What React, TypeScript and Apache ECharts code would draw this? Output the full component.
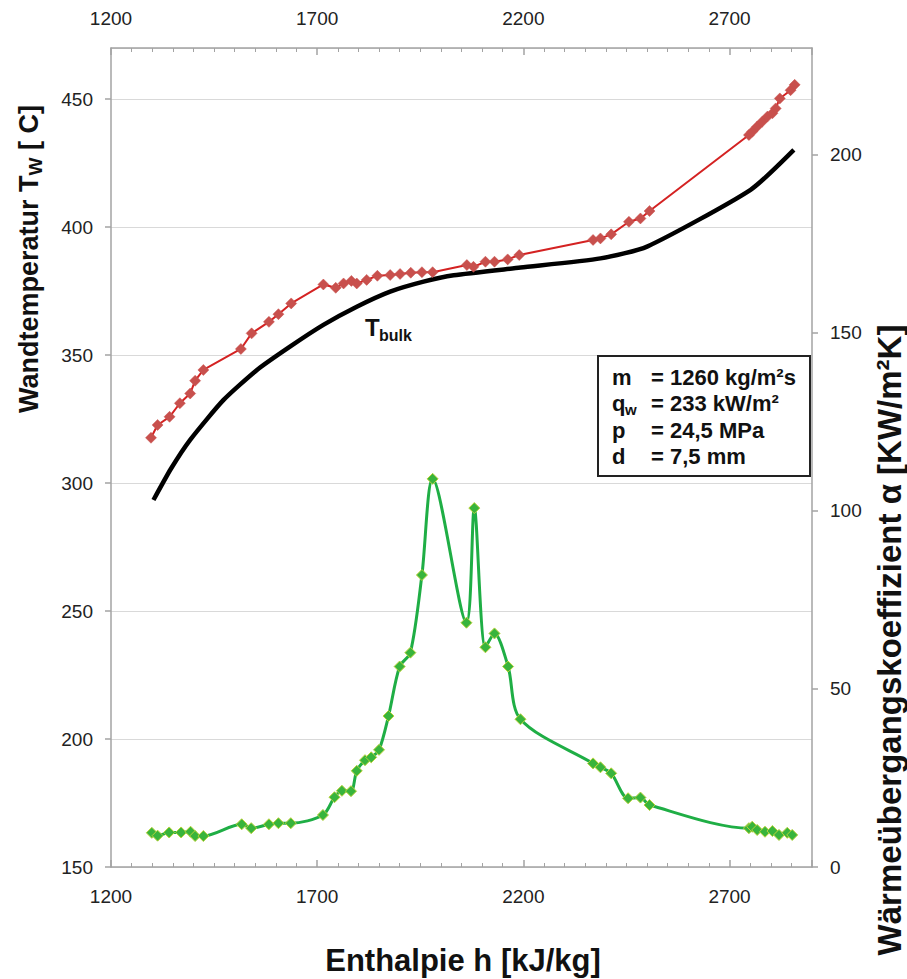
import React, { useEffect, useRef } from "react";
import * as echarts from "echarts";

// Wandtemperatur (red)
const hTw = [1297, 1313, 1342, 1367, 1392, 1404, 1424, 1515, 1541, 1583, 1606, 1637, 1715, 1745, 1764, 1783, 1796, 1820, 1846, 1877, 1901, 1927, 1954, 1980, 2063, 2079, 2108, 2130, 2162, 2190, 2369, 2387, 2413, 2456, 2484, 2506, 2747, 2755, 2767, 2779, 2792, 2804, 2812, 2822, 2848, 2858];
const tw = [317.7, 322.7, 325.9, 331.2, 335, 340, 344.2, 352.4, 358.5, 363, 366, 370.2, 377.6, 376.3, 378, 379, 378, 379.4, 381, 381.3, 381.7, 382.2, 382.4, 382.4, 385.2, 384.5, 386.5, 386.5, 387.4, 389.1, 395, 395.6, 397.2, 402.1, 403.4, 406.3, 436, 437.3, 439.3, 441.2, 443.2, 444.5, 446.4, 450.3, 453.5, 455.6];

// T bulk (black)
const hBulk = [1303, 1345, 1392, 1473, 1554, 1634, 1715, 1796, 1877, 1958, 2031, 2193, 2387, 2500, 2751, 2856];
const tBulk = [293.4, 305.5, 316.9, 332.5, 344.2, 353.3, 361.8, 368.9, 374.8, 378.7, 381.2, 384.2, 387.8, 392.4, 414.6, 430.2];

// Wärmeübergangskoeffizient (green)
const hAlpha = [1299, 1313, 1341, 1370, 1393, 1404, 1424, 1517, 1540, 1583, 1606, 1636, 1714, 1742, 1760, 1782, 1796, 1816, 1831, 1850, 1873, 1900, 1926, 1954, 1980, 2062, 2081, 2108, 2130, 2163, 2193, 2369, 2387, 2413, 2454, 2484, 2506, 2747, 2755, 2767, 2786, 2804, 2820, 2840, 2852];
const alpha = [9.6, 8.8, 9.7, 9.7, 9.9, 8.7, 8.7, 12, 10.9, 12, 12.3, 12.3, 14.6, 19.6, 21.4, 21.3, 27, 30, 30.8, 32.9, 42.4, 56.3, 60.2, 82, 109, 68.6, 100.8, 61.7, 65.6, 56.3, 41.5, 29.1, 28, 26.3, 19.3, 19.5, 17.4, 10.9, 11.3, 10.4, 9.9, 10.1, 9, 9.6, 9];

const legendLabels = ["m", "q", "p", "d"];
const legendValues = ["= 1260 kg/m²s", "= 233 kW/m²", "= 24,5 MPa", "= 7,5 mm"];

const FONT = '"Liberation Sans", Arial, sans-serif';

export default function App() {
  const ref = useRef<HTMLDivElement>(null);
  useEffect(() => {
    if (!ref.current) return;
    const chart = echarts.init(ref.current, null, { renderer: "svg" });
    const axisLineColor = "#a3a3a3";
    const xCommon = {
      type: "value",
      min: 1200,
      max: 2900,
      interval: 500,
      axisLine: { show: true, lineStyle: { color: axisLineColor, width: 1.5 } },
      axisTick: { show: true, inside: true, length: 7, lineStyle: { color: axisLineColor, width: 1.5 } },
      minorTick: { show: true, splitNumber: 10, length: 4, lineStyle: { color: axisLineColor, width: 1 } },
      axisLabel: {
        showMaxLabel: false, margin: 20, fontSize: 19, color: "#222", fontFamily: FONT,
        formatter: (v: number) => String(v),
      },
      splitLine: { show: false },
    };
    const legendRows: any[] = [];
    const rowY = [377, 403, 430, 456];
    legendLabels.forEach((l, i) => {
      legendRows.push({
        type: "text", x: 612, y: rowY[i], z: 101,
        style: { text: l, fill: "#111", font: `bold 22px ${FONT}`, textAlign: "left", textVerticalAlign: "middle" },
      });
      legendRows.push({
        type: "text", x: 651, y: rowY[i], z: 101,
        style: { text: legendValues[i], fill: "#111", font: `bold 22px ${FONT}`, textAlign: "left", textVerticalAlign: "middle" },
      });
    });
    legendRows.push({
      type: "text", x: 625, y: rowY[1] + 6, z: 101,
      style: { text: "w", fill: "#111", font: `bold 15px ${FONT}`, textAlign: "left", textVerticalAlign: "middle" },
    });

    chart.setOption({
      animation: false,
      backgroundColor: "#fff",
      grid: { left: 111, right: 95, top: 48, bottom: 112, containLabel: false },
      xAxis: [
        { ...xCommon, position: "bottom" },
        { ...xCommon, position: "top" },
      ],
      yAxis: [
        {
          type: "value", min: 150, max: 470, interval: 50, position: "left",
          axisLine: { show: true, lineStyle: { color: axisLineColor, width: 1.5 } },
          axisTick: { show: true, length: 6, lineStyle: { color: axisLineColor, width: 1.5 } },
          axisLabel: { showMaxLabel: false, margin: 18, fontSize: 19, color: "#222", fontFamily: FONT },
          splitLine: { show: true, lineStyle: { color: "#d9d9d9", width: 1.2 } },
        },
        {
          type: "value", min: 0, max: 230, interval: 50, position: "right",
          axisLine: { show: true, lineStyle: { color: axisLineColor, width: 1.5 } },
          axisTick: { show: true, length: 6, lineStyle: { color: axisLineColor, width: 1.5 } },
          axisLabel: { showMaxLabel: false, margin: 18, fontSize: 19, color: "#222", fontFamily: FONT },
          splitLine: { show: false },
        },
      ],
      series: [
        {
          name: "Tbulk", type: "line", xAxisIndex: 0, yAxisIndex: 0,
          data: hBulk.map((h, i) => [h, tBulk[i]]),
          symbol: "none", smooth: 0.2,
          lineStyle: { color: "#000", width: 4.5 }, z: 2,
        },
        {
          name: "Tw", type: "line", xAxisIndex: 0, yAxisIndex: 0,
          data: hTw.map((h, i) => [h, tw[i]]),
          symbol: "diamond", symbolSize: 11,
          lineStyle: { color: "#d42222", width: 2 },
          itemStyle: { color: "#c8504d", borderColor: "#c8504d", borderWidth: 0.5 }, z: 3,
        },
        {
          name: "alpha", type: "line", xAxisIndex: 0, yAxisIndex: 1,
          data: hAlpha.map((h, i) => [h, alpha[i]]),
          symbol: "diamond", symbolSize: 11, smooth: 0.3,
          lineStyle: { color: "#1fae45", width: 3 },
          itemStyle: { color: "#38b43c", borderColor: "#b8d23a", borderWidth: 1 }, z: 4,
        },
      ],
      graphic: [
        {
          type: "rect", z: 100,
          shape: { x: 598, y: 356, width: 212, height: 120 },
          style: { fill: "#fff", stroke: "#222", lineWidth: 2 },
        },
        ...legendRows,
        {
          type: "text", x: 365, y: 327, z: 101,
          style: { text: "T", fill: "#111", font: `bold 24px ${FONT}`, textAlign: "left", textVerticalAlign: "middle" },
        },
        {
          type: "text", x: 379, y: 335, z: 101,
          style: { text: "bulk", fill: "#111", font: `bold 16px ${FONT}`, textAlign: "left", textVerticalAlign: "middle" },
        },
        {
          type: "text", x: 29, y: 259, rotation: Math.PI / 2, z: 101,
          style: {
            text: "{a|Wandtemperatur T}{s|W}{a| [ C]}",
            textAlign: "center", textVerticalAlign: "middle", fill: "#111",
            rich: {
              a: { fontSize: 27, fontWeight: "bold", fontFamily: FONT, lineHeight: 32, verticalAlign: "middle" },
              s: { fontSize: 19, fontWeight: "bold", fontFamily: FONT, lineHeight: 32, verticalAlign: "bottom" },
            },
          },
        },
        {
          type: "text", x: 889, y: 640, rotation: Math.PI / 2, z: 101,
          style: {
            text: "Wärmeübergangskoeffizient α [KW/m²K]",
            textAlign: "center", textVerticalAlign: "middle", fill: "#111",
            font: `bold 33px ${FONT}`,
          },
        },
        {
          type: "text", x: 463, y: 960, z: 101,
          style: {
            text: "Enthalpie h [kJ/kg]",
            textAlign: "center", textVerticalAlign: "middle", fill: "#111",
            font: `bold 31px ${FONT}`,
          },
        },
      ],
    });
    return () => chart.dispose();
  }, []);
  return (
    <div
      ref={ref}
      style={{ position: "fixed", left: 0, top: 0, width: 907, height: 979, background: "#fff" }}
    />
  );
}
